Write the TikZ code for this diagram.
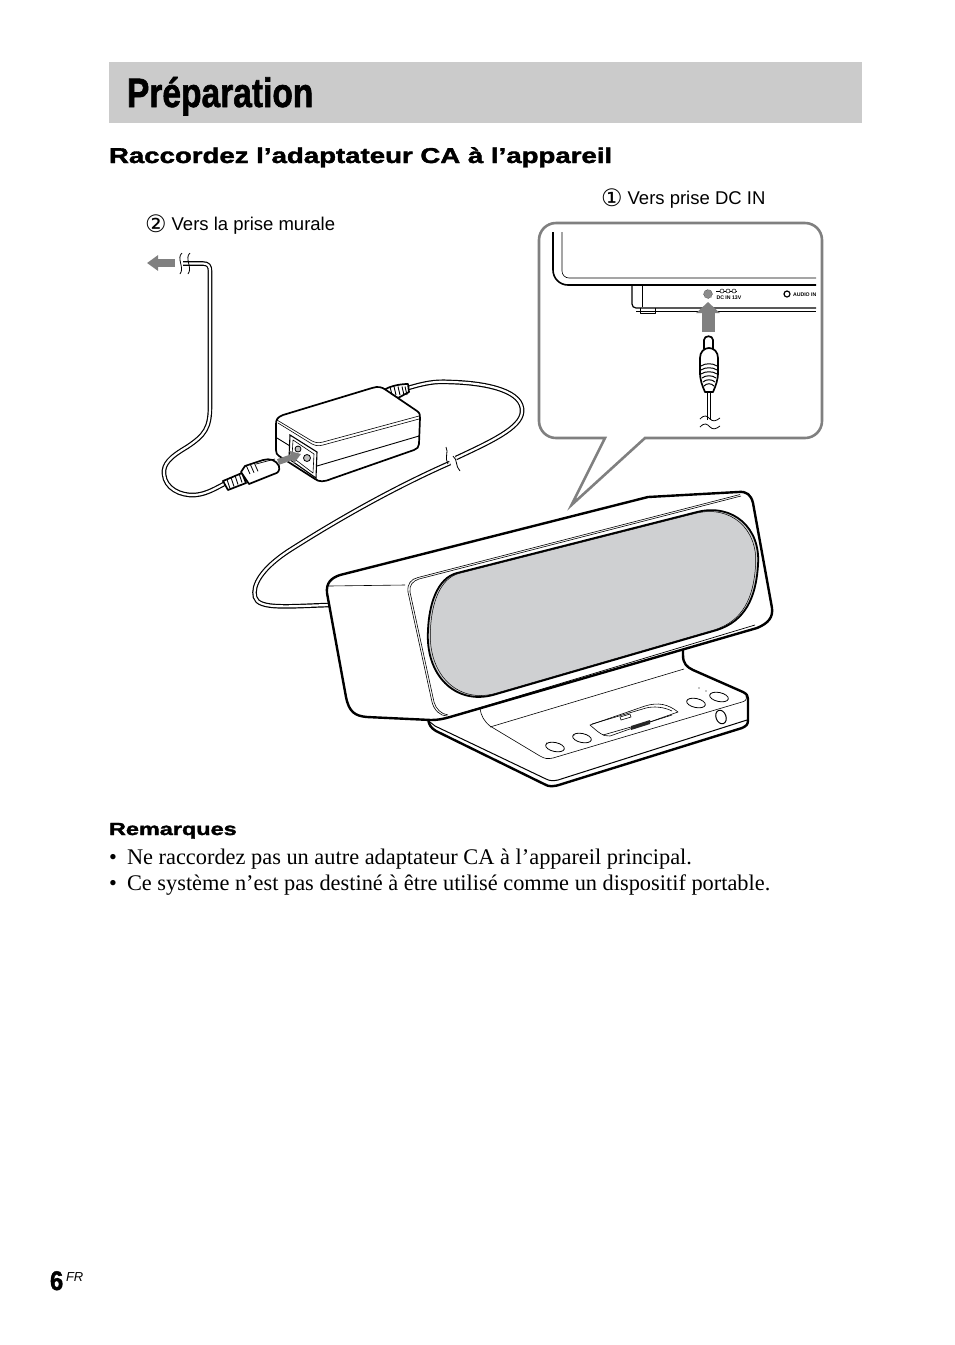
\documentclass[tikz,border=0pt]{standalone}
\usepackage{fontspec}
\usepackage{graphicx}
\setmainfont{Liberation Serif}
\setsansfont{Liberation Sans}
\newfontfamily\symfont{DejaVu Sans}
\newfontfamily\blackfont{Liberation Sans}[BoldFeatures={FakeBold=1.6}]
\usetikzlibrary{arrows.meta,positioning,shapes.geometric}
\definecolor{bandgray}{HTML}{CBCBCB}
\definecolor{framegray}{HTML}{808080}
\definecolor{grillgray}{HTML}{CFD0D2}
\newcommand{\sz}[1]{\fontsize{#1}{#1}\selectfont}
\tikzset{
	cable/.style={line width=1.2pt,double=white,double distance=2.2pt},
	heavy/.style={line width=1.7pt,line join=round},
	fine/.style={line width=.6pt,line join=round},
	bigarrow/.style={draw=framegray,-{Triangle[length=11pt,width=23pt]},line width=13pt},
	smallarrow/.style={draw=framegray,-{Triangle[length=11pt,width=15pt]},line width=8pt},
	txt/.style={anchor=base west,inner sep=0pt,outer sep=0pt},
	btn/.style={draw,line width=.8pt,fill=white,ellipse,rotate=-12,minimum height=9pt,minimum width=19pt,inner sep=0pt}
}
\begin{document}
\begin{tikzpicture}[x=1pt,y=-1pt,line cap=butt]
	\useasboundingbox (0,0) rectangle (954,1345);

	%Titel
	\fill[bandgray] (109,62) rectangle (862,123);
	\node (title) [txt] at (127,107) {\blackfont\bfseries\sz{41}\scalebox{.818}[1]{Préparation}};
	\node (head) [txt] at (109,163) {\blackfont\bfseries\sz{21.5}\scalebox{1.284}[1]{Raccordez l’adaptateur CA à l’appareil}};

	%Labels
	\node (lab1) [txt] at (601,204) {\sffamily\sz{18.5}\raisebox{-2pt}{\symfont\sz{24}①} Vers prise DC IN};
	\node (lab2) [txt] at (145,230) {\sffamily\sz{18.5}\raisebox{-2pt}{\symfont\sz{24}②} Vers la prise murale};

	%Bulle
	\draw[framegray,line width=2.6pt,line join=miter]
	(605,438) -- (571.5,505) -- (645,438) [rounded corners=17pt] -- (822,438) -- (822,223)
	-- (539,223) -- (539,438) [sharp corners] -- cycle;

	%Appareil (detail)
	\draw[line width=1.6pt,rounded corners=15pt] (553,232) -- (553,285) -- (816,285);
	\draw[fine,rounded corners=7pt] (562,232) -- (562,278) -- (816,278);
	\draw[line width=1.2pt,rounded corners=4pt] (632,285) -- (632,308) -- (816,308);
	\draw[fine] (642,285) -- (642,307);
	\draw[fine] (640,308) -- (640,313) -- (655,313) -- (655,308);
	\draw[line width=.8pt] (636,311) -- (816,311);
	\node (jack) [circle,draw,fill=black!45,densely dotted,inner sep=0pt,minimum size=9pt] at (708,294) {};
	\node (dcin) [txt] at (716.5,299.5) {\sffamily\bfseries\sz{5.2}DC IN 13V};
	\node (audio) [txt] at (793,296) {\sffamily\bfseries\sz{5.2}AUDIO IN};
	\node (audiojack) [circle,draw,line width=1.2pt,inner sep=0pt,minimum size=6pt] at (787,294) {};
	\draw[line width=.5pt] (716,291) -- (737,291);
	\foreach \px in {722,728,734}
		\node (dc\px) [circle,draw,fill=white,line width=.5pt,inner sep=0pt,minimum size=4pt] at (\px,291) {};
	\coordinate (upa) at (708,332);
	\coordinate (upb) at (708,302);
	\draw[bigarrow] (upa) -- (upb);

	%Fiche DC
	\draw[cable] (709,391) -- (709,423);
	\draw[heavy,fill=white] (704,349) -- (704,340) .. controls (704,335) and (713,335) .. (713,340) -- (713,349);
	\draw[heavy,fill=white] (705,392) .. controls (702,385) and (700,380) .. (700,372) -- (700,358)
	.. controls (700,352) and (704,348) .. (709,348) .. controls (714,348) and (718,352) .. (718,358)
	-- (718,372) .. controls (718,380) and (716,385) .. (713,392) -- cycle;
	\foreach \yy/\hw in {366/8,370/8,374/8,378/7,382/6,386/5}
		\draw[line width=1pt] (709-\hw,\yy) .. controls (709-\hw/2,\yy-3) and (709+\hw/2,\yy-3) .. (709+\hw,\yy);
	\fill[white] (703,420) rectangle (716,426);
	\foreach \yy in {419,427}
		\draw[line width=.8pt] (700,\yy) .. controls (705,\yy-5) and (707,\yy-3) .. (710,\yy) .. controls (713,\yy+3) and (716,\yy+2) .. (720,\yy-1);

	%Cable vers la prise murale
	\draw[cable] (183,263.5) -- (203,263.5) .. controls (208,263.5) and (210,266) .. (210,271)
	-- (210,406) .. controls (210,428) and (205,435) .. (187,447)
	.. controls (170,457) and (163,464) .. (164,474) .. controls (165,488) and (180,496) .. (195,495)
	.. controls (207,494) and (216,488) .. (226,483);
	\coordinate (walla) at (175,263);
	\coordinate (wallb) at (147,263);
	\draw[smallarrow] (walla) -- (wallb);
	\draw[line width=.8pt] (182,253) .. controls (176,258) and (185,268) .. (180,274);
	\draw[line width=.8pt] (190,253) .. controls (184,258) and (193,268) .. (188,274);

	%Cable vers l'appareil
	\draw[cable] (408,388) .. controls (425,383) and (435,381) .. (450,382)
	.. controls (490,383) and (524,392) .. (522,412) .. controls (521,428) and (490,442) .. (456,458);
	\draw[cable] (450,463) .. controls (400,485) and (345,515) .. (290,550)
	.. controls (262,568) and (252,585) .. (255,597) .. controls (258,610) and (290,606) .. (330,605);
	\draw[line width=.8pt] (446,447) .. controls (449,452) and (444,458) .. (448,464);
	\draw[line width=.8pt] (453,456) .. controls (458,460) and (455,466) .. (460,471);

	%Adaptateur
	\draw[heavy,fill=white] (384,390) .. controls (390,386) and (400,384) .. (408,384) -- (409,392) -- (398,398) -- cycle;
	\foreach \xx in {390,394,398,402,405}
		\draw[line width=.9pt] (\xx,386.5) -- (\xx+2,395);
	\draw[heavy,fill=white] (276,424) .. controls (276,419) and (278,417) .. (283,415)
	-- (372,388) .. controls (378,386) and (382,387) .. (386,390) -- (417,411)
	.. controls (420,413) and (420,415) .. (420,418) -- (419,444) .. controls (419,447) and (417,449) .. (414,450)
	-- (331,479) .. controls (324,482) and (319,482) .. (315,479) -- (279,456)
	.. controls (277,455) and (276,453) .. (276,450) -- cycle;
	\draw[fine] (277,420) -- (312,441) .. controls (316,443) and (319,443) .. (323,442) -- (419,416);
	\draw[fine] (278,423) -- (312,444) .. controls (316,446) and (319,446) .. (323,445) -- (419,419);
	\draw[line width=.9pt] (277,438) -- (290,446);
	\draw[line width=.9pt] (317,466) -- (419,436);
	\draw[line width=1.1pt,fill=white] (290,435) -- (317,452) -- (316,478) -- (289,459) -- cycle;
	\draw[fine] (293,440) -- (314,454) -- (313,473) -- (292,457) -- cycle;
	\node (pina) [circle,draw,line width=.8pt,fill=black!25,inner sep=0pt,minimum size=6pt] at (298,449) {};
	\node (pinb) [circle,draw,line width=.8pt,fill=black!25,inner sep=0pt,minimum size=7pt] at (307,458) {};

	%Fiche secteur
	\draw[heavy,fill=white] (223,481) -- (242,473) -- (246,483) -- (228,490) -- cycle;
	\foreach \xx in {227,231,235,239}
		\draw[line width=.9pt] (\xx,479.5-\xx/2+113.5) -- (\xx+3,488.5-\xx/2+113.5);
	\draw[heavy,fill=white] (241,472) -- (245,466) -- (263,460) .. controls (270,458) and (276,460) .. (279,466)
	.. controls (280,471) and (278,473) .. (274,474) -- (249,484) -- cycle;
	\foreach \xx in {246,250,254}
		\draw[line width=.8pt] (\xx,465-\xx/3+82) -- (\xx+4,474-\xx/3+82);
	\draw[line width=.7pt] (256,464) -- (275,459);
	\coordinate (acina) at (278,462);
	\coordinate (acinb) at (301,454);
	\draw[draw=framegray,-{Triangle[length=10pt,width=13pt]},line width=6pt] (acina) -- (acinb);

	%Socle
	\draw[line width=2.4pt,line join=round,fill=white] (683,645) -- (683,655) .. controls (683,664) and (687,667) .. (693,670)
	-- (743,692) .. controls (747,694) and (748,696) .. (748,699) -- (748,720)
	.. controls (748,725) and (746,726) .. (742,728) -- (562,784)
	.. controls (553,787) and (549,787) .. (544,784) -- (436,731) .. controls (431,728) and (429,725) .. (428,719) -- (428,700) -- cycle;
	\draw[line width=1pt] (430,722) -- (435,726) -- (546,779) .. controls (550,781) and (553,781) .. (558,780) -- (747,720);
	\draw[fine] (684,669) -- (490,727);
	\draw[fine] (480,708) .. controls (481,716) and (484,721) .. (490,726) -- (540,756)
	.. controls (545,759) and (548,759) .. (553,758) -- (742,702) .. controls (746,701) and (747,699) .. (746,696);
	\node (btna) [btn] at (555,747) {};
	\node (btnb) [btn] at (582,738) {};
	\node (btnc) [btn] at (696,703) {};
	\node (btnd) [btn] at (719,697) {};
	\node (phones) [btn,line width=1pt,rotate=32,minimum height=14pt,minimum width=10pt] at (721,717) {};
	\fill (699,688) circle (.6) (706,691) circle (.6) (546.5,743) circle (.5) (574,735) circle (.5);

	%Dock
	\draw[fine,fill=white] (590,725) -- (645,706) .. controls (658,702) and (668,704) .. (678,712)
	-- (610,736) .. controls (603,737) and (597,731) .. (590,725) -- cycle;
	\draw[fine] (592,724) -- (646,708) .. controls (654,706) and (664,707) .. (672,711);
	\draw[fine] (620,717) -- (630,714) -- (631,717) -- (621,720) -- cycle;
	\fill[black!85] (631,726) -- (650,720) -- (650,724) -- (631,730) -- cycle;
	\draw[fine] (603,735) -- (631,727) (650,722) -- (672,715);

	%Enceinte
	\draw[line width=2.4pt,line join=round,fill=white] (327,593) .. controls (326,583) and (331,578) .. (340,575)
	-- (648,497) -- (738,492) .. controls (747,491) and (751,495) .. (753,503)
	-- (772,608) .. controls (773,617) and (769,623) .. (757,628)
	-- (450,717) .. controls (443,719) and (438,720) .. (431,720)
	-- (367,717) .. controls (355,716) and (349,712) .. (346,697) -- cycle;
	\draw[fine] (329,586) -- (405,585);
	\draw[fine] (740,494.5) -- (418,577.5) .. controls (411,579) and (407,584) .. (408,592)
	-- (432,702) .. controls (434,710) and (440,716) .. (447,716);
	\draw[fine] (741,496) -- (419,579) .. controls (413,581) and (409,585) .. (410,592)
	-- (434,702) .. controls (436,709) and (441,714) .. (448,715);
	\draw[line width=.7pt] (449,717) -- (755,625);
	\def\grillpath{(457,573) -- (697,512) .. controls (733,503) and (761,528) .. (758,565)
	.. controls (756,598) and (745,621) .. (717,630) -- (493,695)
	.. controls (455,705) and (425,675) .. (428,630) .. controls (429,605) and (437,578) .. (457,573) -- cycle}
	\draw[line width=1.8pt,fill=grillgray] \grillpath;
	\begin{scope}[shift={(593,603)},scale=.985,shift={(-593,-603)}]
	\draw[line width=.5pt] \grillpath;
	\end{scope}

	%Remarques
	\node (rem) [txt] at (109,835) {\blackfont\bfseries\sz{17.5}\scalebox{1.34}[1]{Remarques}};
	\node (ba) [txt] at (109,864) {\sz{22.36}•};
	\node (ta) [txt] at (127,864) {\sz{22.36}Ne raccordez pas un autre adaptateur CA à l’appareil principal.};
	\node (bb) [txt] at (109,890) {\sz{22.36}•};
	\node (tb) [txt] at (127,890) {\sz{22.36}Ce système n’est pas destiné à être utilisé comme un dispositif portable.};

	%Page
	\node (page) [txt] at (50,1290) {\blackfont\bfseries\sz{27}\scalebox{.88}[1]{6}};
	\node (fr) [txt] at (66,1281) {\sffamily\itshape\sz{13}FR};
\end{tikzpicture}
\end{document}
